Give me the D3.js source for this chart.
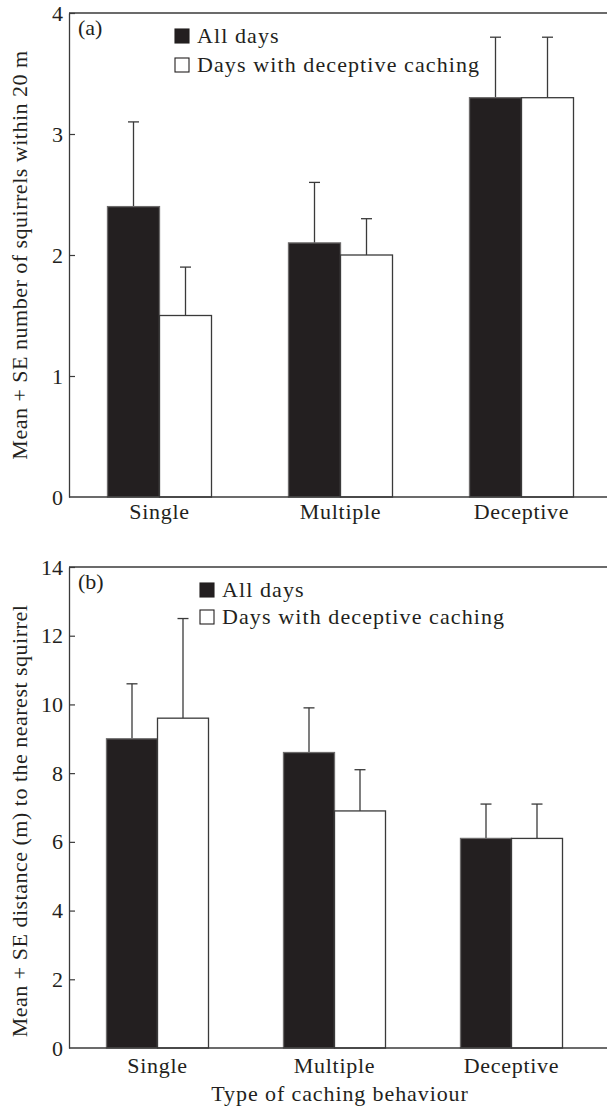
<!DOCTYPE html>
<html>
<head>
<meta charset="utf-8">
<script src="https://cdn.jsdelivr.net/npm/d3@7"></script>
<style>
  body { margin: 0; background: #fff; }
  text { font-family: "Liberation Serif", serif; fill: #231f20; }
</style>
</head>
<body>
<script>
const width = 607;
const height = 1109;

const categories = ["Single", "Multiple", "Deceptive"];
const series = ["All days", "Days with deceptive caching"];

// (a) number of squirrels within 20 m
const countAll = [2.4, 2.1, 3.3];
const countAllSE = [0.7, 0.5, 0.5];
const countDeceptive = [1.5, 2.0, 3.3];
const countDeceptiveSE = [0.4, 0.3, 0.5];
const countTicks = [0, 1, 2, 3, 4];

// (b) distance to the nearest squirrel
const distAll = [9.0, 8.6, 6.1];
const distAllSE = [1.6, 1.3, 1.0];
const distDeceptive = [9.6, 6.9, 6.1];
const distDeceptiveSE = [2.9, 1.2, 1.0];
const distTicks = [0, 2, 4, 6, 8, 10, 12, 14];

const fills = ["#231f20", "#fff"];
const strokes = ["#6d6b6b", "#3a3a3a"];
const lineColor = "#3a3a3a";

const svg = d3.select(document.body).append("svg")
  .attr("width", width)
  .attr("height", height);

function rows(means, ses) {
  return categories.map((cat, i) => ({ cat, means: means.map(m => m[i]), ses: ses.map(s => s[i]) }));
}

function drawPanel(p) {
  const y = d3.scaleLinear().domain([0, d3.max(p.ticks)]).range([p.bottom, p.top]);
  const x = d3.scaleBand().domain(categories).range([p.left, p.right]);
  const xs = d3.scaleBand().domain(series)
    .range([x.bandwidth() / 2 - p.barWidth, x.bandwidth() / 2 + p.barWidth]);

  const g = svg.append("g");

  // frame: top and bottom lines run to the page edge
  g.append("line")
    .attr("x1", p.left).attr("x2", width)
    .attr("y1", y(d3.max(p.ticks))).attr("y2", y(d3.max(p.ticks)))
    .attr("stroke", lineColor).attr("stroke-width", 1.3);

  const groups = g.selectAll(".grp")
    .data(rows(p.means, p.ses))
    .enter().append("g")
    .attr("transform", d => `translate(${x(d.cat)},0)`);

  series.forEach((s, si) => {
    // error bars
    groups.append("line")
      .attr("x1", xs(s) + xs.bandwidth() / 2).attr("x2", xs(s) + xs.bandwidth() / 2)
      .attr("y1", d => y(d.means[si])).attr("y2", d => y(d.means[si] + d.ses[si]))
      .attr("stroke", lineColor).attr("stroke-width", 1.3);
    groups.append("line")
      .attr("x1", xs(s) + xs.bandwidth() / 2 - 5.5).attr("x2", xs(s) + xs.bandwidth() / 2 + 5.5)
      .attr("y1", d => y(d.means[si] + d.ses[si])).attr("y2", d => y(d.means[si] + d.ses[si]))
      .attr("stroke", lineColor).attr("stroke-width", 1.3);
    groups.append("rect")
      .attr("x", xs(s))
      .attr("y", d => y(d.means[si]))
      .attr("width", xs.bandwidth())
      .attr("height", d => y(0) - y(d.means[si]))
      .attr("fill", fills[si])
      .attr("stroke", strokes[si])
      .attr("stroke-width", 1.3);
  });

  g.append("line")
    .attr("x1", p.left).attr("x2", width)
    .attr("y1", y(0)).attr("y2", y(0))
    .attr("stroke", lineColor).attr("stroke-width", 1.3);

  const yAxis = g.append("g")
    .attr("transform", `translate(${p.left},0)`)
    .call(d3.axisLeft(y).tickValues(p.ticks).tickFormat(d3.format("d"))
      .tickSizeInner(-6).tickSizeOuter(0).tickPadding(6));
  yAxis.select(".domain").attr("stroke", lineColor).attr("stroke-width", 1.3);
  yAxis.selectAll(".tick line").attr("stroke", lineColor).attr("stroke-width", 1.2);
  yAxis.selectAll(".tick text")
    .attr("style", "font-family: 'Liberation Serif', serif; font-size: 22px; fill: #231f20;");
  yAxis.select(".tick:first-of-type line").remove();

  const xAxis = g.append("g")
    .attr("transform", `translate(0,${y(0)})`)
    .call(d3.axisBottom(x).tickSize(0).tickPadding(p.catPad));
  xAxis.select(".domain").remove();
  xAxis.selectAll(".tick text")
    .attr("style", "font-family: 'Liberation Serif', serif; font-size: 22px; letter-spacing: 0.7px; fill: #231f20;");

  // y label
  g.append("text")
    .attr("transform", `translate(${p.labelX},${p.labelY}) rotate(-90)`)
    .attr("text-anchor", "middle")
    .attr("style", "font-size: 22px; letter-spacing: 0.5px;")
    .text(p.yLabel);

  // panel tag
  g.append("text")
    .attr("x", p.left + 9)
    .attr("y", y(d3.max(p.ticks)) + 22)
    .attr("style", "font-size: 22px;")
    .text(p.tag);

  // legend
  const legend = g.selectAll(".legend")
    .data(series)
    .enter().append("g")
    .attr("transform", (d, i) => `translate(${p.legendX},${p.legendY + i * p.legendStep})`);
  legend.append("rect")
    .attr("x", 0).attr("y", -14)
    .attr("width", 14).attr("height", 14)
    .attr("fill", (d, i) => fills[i])
    .attr("stroke", "#231f20").attr("stroke-width", 1.1);
  legend.append("text")
    .attr("x", 22).attr("y", 0)
    .attr("style", "font-size: 22px; letter-spacing: 1.1px;")
    .text(d => d);
}

drawPanel({
  tag: "(a)",
  means: [countAll, countDeceptive],
  ses: [countAllSE, countDeceptiveSE],
  ticks: countTicks,
  top: 13, bottom: 497, left: 69, right: 612,
  barWidth: 52, catPad: 6,
  yLabel: "Mean + SE number of squirrels  within 20 m",
  labelX: 27, labelY: 255,
  legendX: 175, legendY: 43, legendStep: 29
});

drawPanel({
  tag: "(b)",
  means: [distAll, distDeceptive],
  ses: [distAllSE, distDeceptiveSE],
  ticks: distTicks,
  top: 567, bottom: 1048, left: 69, right: 600,
  barWidth: 51, catPad: 9,
  yLabel: "Mean + SE distance (m) to the nearest squirrel",
  labelX: 27, labelY: 821,
  legendX: 200, legendY: 597, legendStep: 27
});

svg.append("text")
  .attr("x", 340)
  .attr("y", 1101)
  .attr("text-anchor", "middle")
  .attr("style", "font-size: 22px; letter-spacing: 0.9px;")
  .text("Type of caching behaviour");
</script>
</body>
</html>
